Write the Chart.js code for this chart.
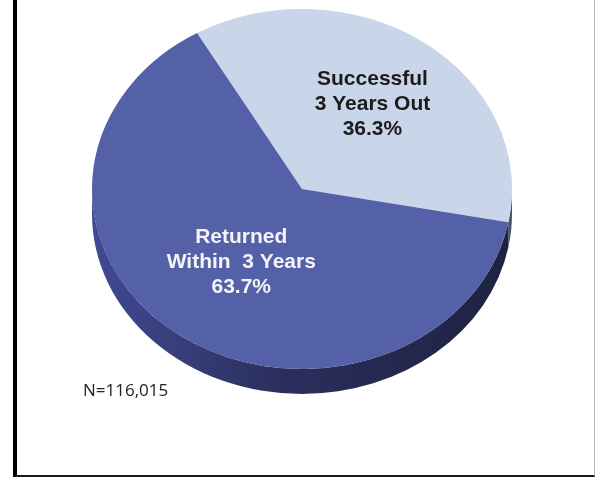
<!DOCTYPE html>
<html>
<head>
<meta charset="utf-8">
<script src="https://cdn.jsdelivr.net/npm/chart.js@4"></script>
<style>
  html, body { margin: 0; padding: 0; background: #fff; }
  #wrap { position: relative; width: 595px; height: 477px; overflow: hidden; }
  #chart { position: absolute; left: 0; top: 0; }
  #frame {
    position: absolute; left: 13px; top: 0; width: 582px; height: 477px;
    border-left: 4px solid #000; border-bottom: 2px solid #1a1a1a; border-right: 1px solid #b5b5b5;
    box-sizing: border-box; pointer-events: none;
  }
  #note {
    position: absolute; left: 83px; top: 378px;
    font: 17px "Open Sans", sans-serif; color: #222;
  }
</style>
</head>
<body>
<div id="wrap">
  <canvas id="chart" width="595" height="477"></canvas>
  <div id="frame"></div>
  <div id="note">N=116,015</div>
</div>
<script>
const labels = ['Successful\n3 Years Out', 'Returned\nWithin  3 Years'];
const values = [36.3, 63.7];
const sliceColors = ['#c9d5e9', '#5460a8'];

// tilt of the pie (vertical squash), its screen centre and the rim depth
const TILT = 180 / 210;
const CENTER_Y = 189;
const DEPTH = 25;
// how far out along each slice the label sits (fraction of radius)
const LABEL_R = [0.58, 0.5];
const LABEL_COLORS = ['#1b1b1b', '#f4f4f8'];

function tilt(ctx, arc) {
  ctx.translate(0, CENTER_Y);
  ctx.scale(1, TILT);
  ctx.translate(0, -arc.y);
}

function sideGradient(ctx, x, r, stops) {
  const g = ctx.createLinearGradient(x - r, 0, x + r, 0);
  g.addColorStop(0, stops[0]);
  g.addColorStop(0.45, stops[1]);
  g.addColorStop(1, stops[2]);
  return g;
}

const sideStops = [
  ['#8d97ad', '#6f778c', '#4a5066'],
  ['#414a93', '#2a2f5d', '#1e2241']
];

const pie3d = {
  id: 'pie3d',
  beforeDatasetsDraw(chart) {
    const ctx = chart.ctx;
    const arcs = chart.getDatasetMeta(0).data;
    ctx.save();
    tilt(ctx, arcs[0]);
    const d = DEPTH / TILT;
    arcs.forEach((arc, i) => {
      const p = arc.getProps(['x', 'y', 'startAngle', 'endAngle', 'outerRadius']);
      // visible rim = part of the slice in the lower half of the ellipse
      for (let k = -1; k <= 2; k++) {
        const a = Math.max(p.startAngle, 2 * Math.PI * k);
        const b = Math.min(p.endAngle, 2 * Math.PI * k + Math.PI);
        if (b <= a) continue;
        ctx.beginPath();
        ctx.arc(p.x, p.y, p.outerRadius, a, b);
        ctx.arc(p.x, p.y + d, p.outerRadius, b, a, true);
        ctx.closePath();
        ctx.fillStyle = sideGradient(ctx, p.x, p.outerRadius, sideStops[i]);
        ctx.fill();
      }
    });
  },
  afterDatasetsDraw(chart) {
    chart.ctx.restore();
  },
  afterDraw(chart) {
    const ctx = chart.ctx;
    const arcs = chart.getDatasetMeta(0).data;
    ctx.save();
    ctx.font = 'bold 21px "Liberation Sans", Arial, sans-serif';
    ctx.textAlign = 'center';
    ctx.textBaseline = 'middle';
    arcs.forEach((arc, i) => {
      const p = arc.getProps(['x', 'startAngle', 'endAngle', 'outerRadius']);
      const mid = (p.startAngle + p.endAngle) / 2;
      const rr = p.outerRadius * LABEL_R[i];
      const px = p.x + Math.cos(mid) * rr;
      const py = CENTER_Y + Math.sin(mid) * rr * TILT;
      const lines = labels[i].split('\n').concat(values[i].toFixed(1) + '%');
      const lh = 25;
      ctx.fillStyle = LABEL_COLORS[i];
      lines.forEach((t, j) => {
        ctx.fillText(t, px, py + (j - (lines.length - 1) / 2) * lh);
      });
    });
    ctx.restore();
  }
};

new Chart(document.getElementById('chart'), {
  type: 'pie',
  data: {
    labels: labels,
    datasets: [{
      data: values,
      backgroundColor: sliceColors,
      borderWidth: 0,
      clip: false
    }]
  },
  options: {
    responsive: false,
    animation: false,
    rotation: -30,
    layout: { padding: { left: 92, right: 83, top: 28, bottom: 29 } },
    plugins: { legend: { display: false }, tooltip: { enabled: false } },
    events: []
  },
  plugins: [pie3d]
});
</script>
</body>
</html>
